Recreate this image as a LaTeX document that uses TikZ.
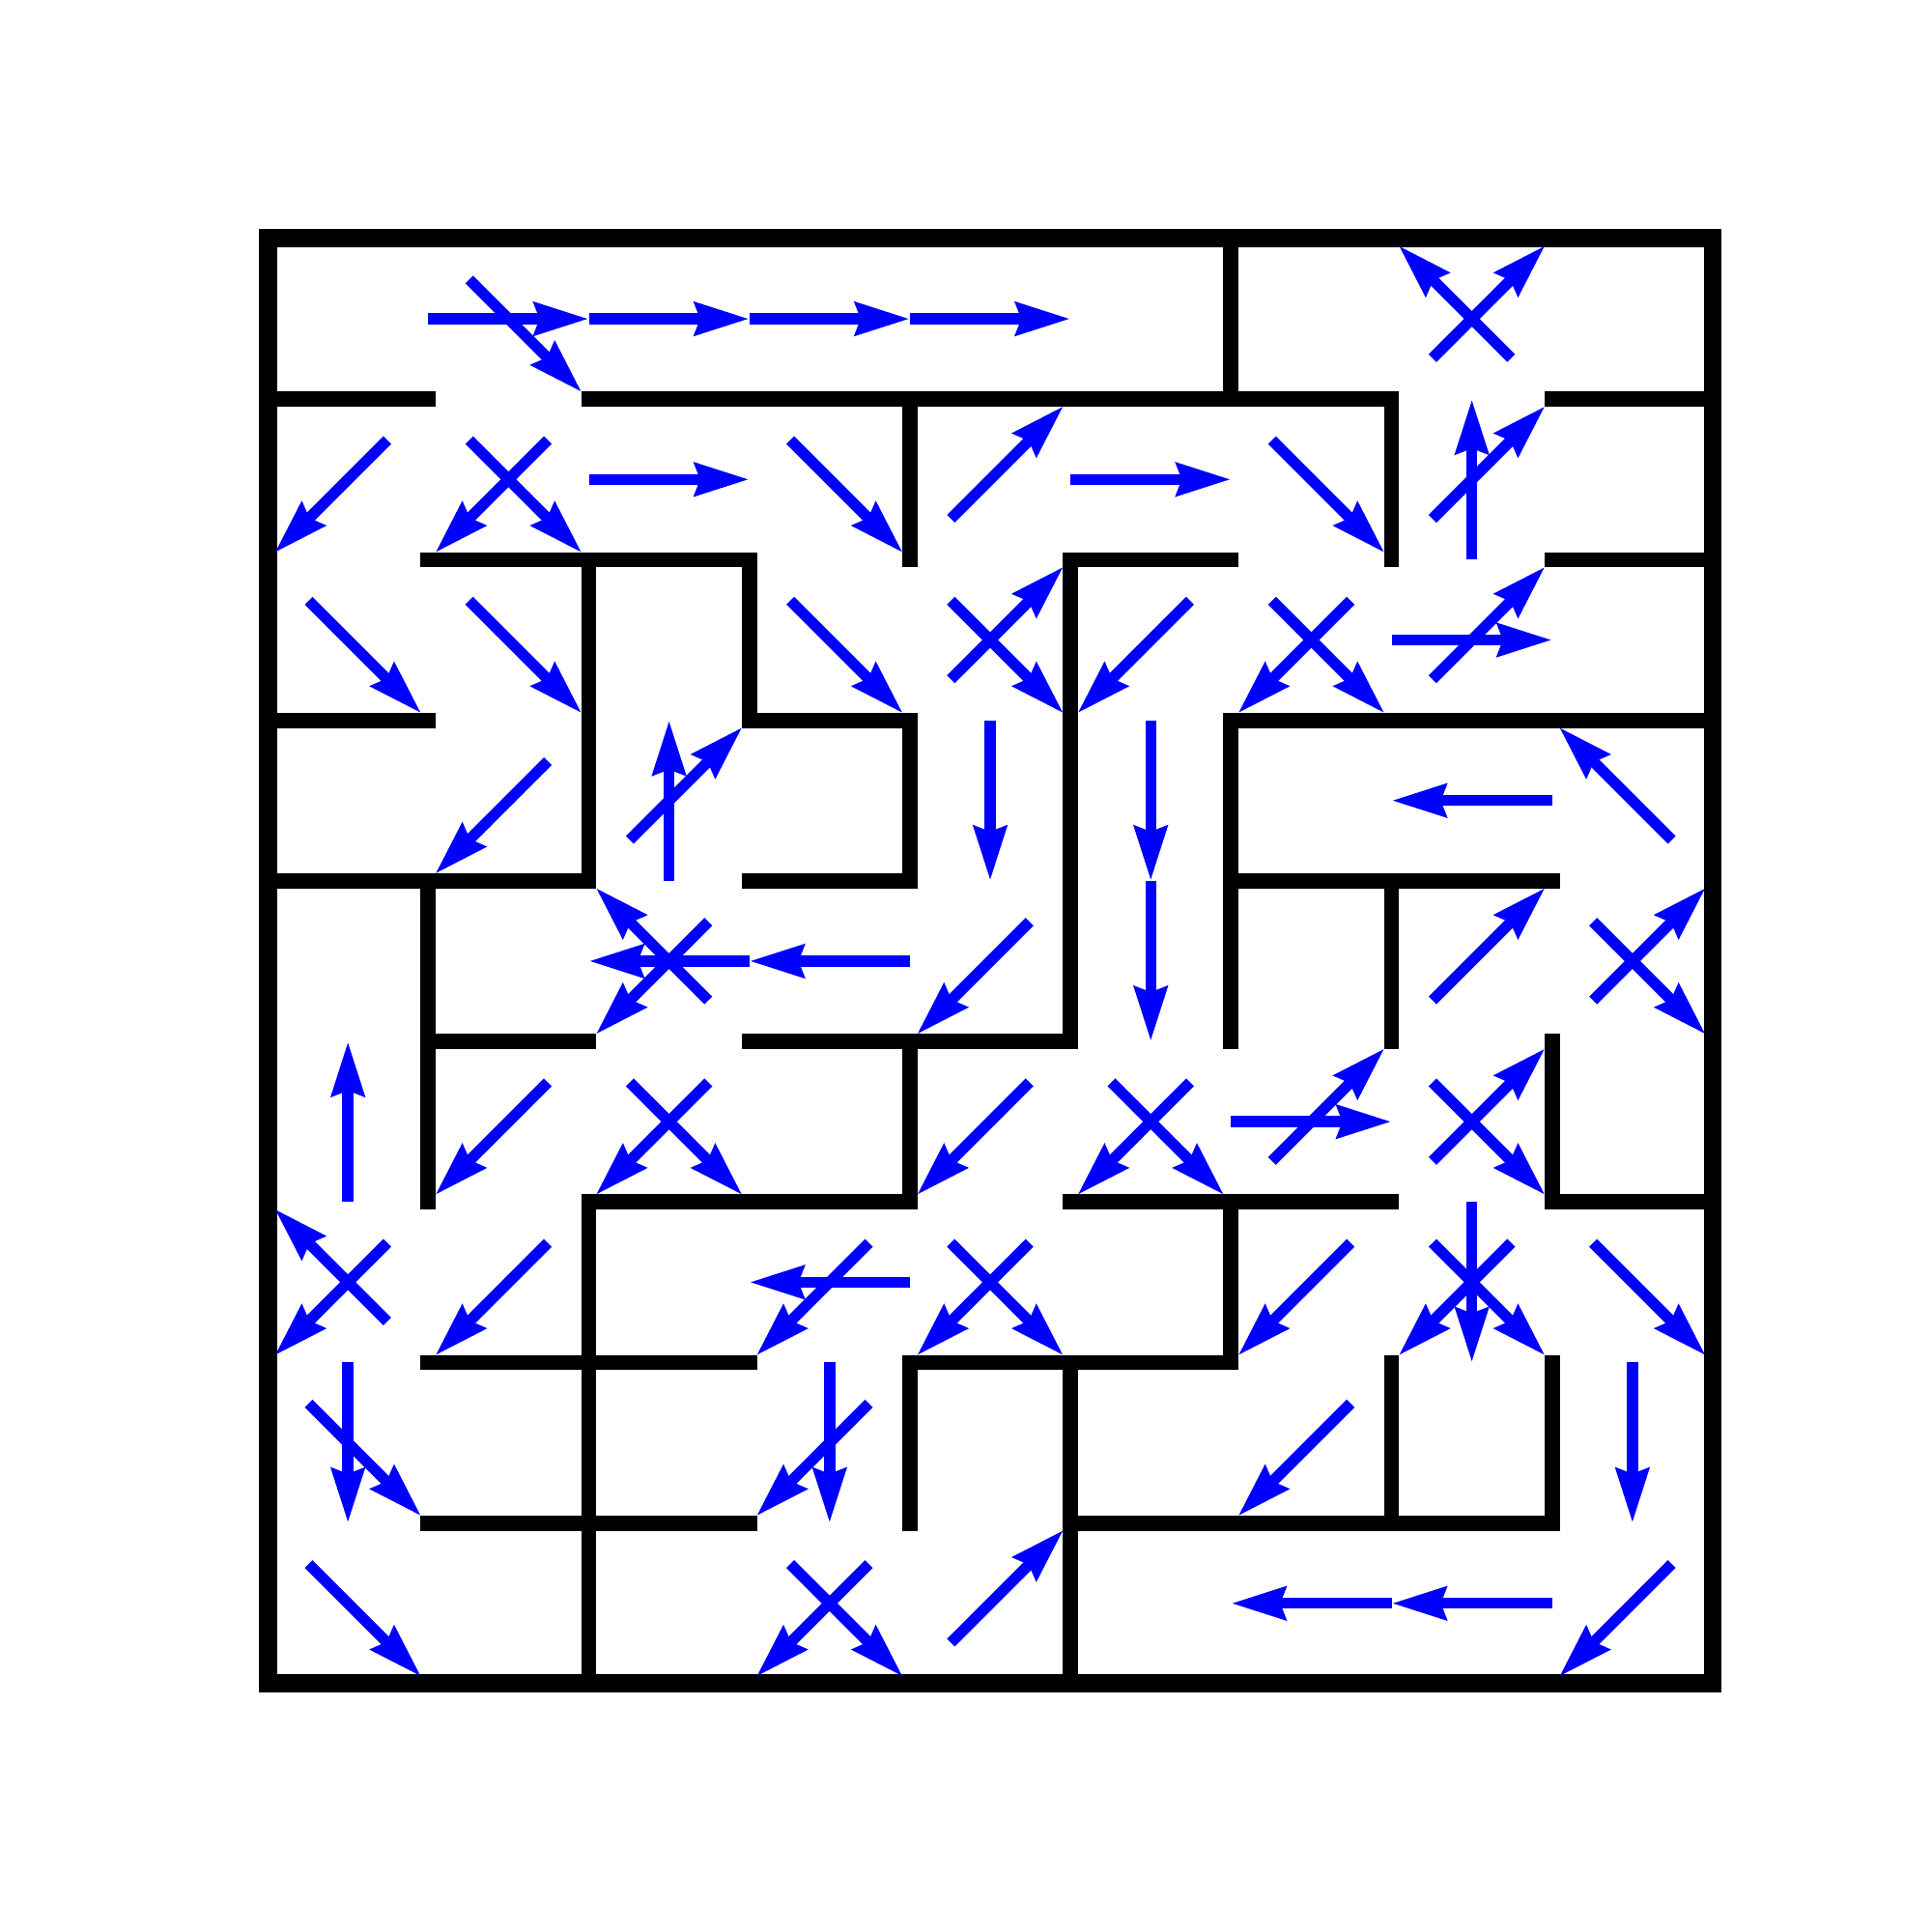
\documentclass[tikz,border=0pt]{standalone}
\usetikzlibrary{arrows.meta}
\begin{document}
\begin{tikzpicture}[x=1cm,y=1cm,
  wall/.style={line width=2.7pt,line cap=rect,black},
  outer/.style={line width=3.25pt,line join=miter,black},
  arr/.style={draw={rgb,255:red,0;green,0;blue,255},line width=1.95pt,
    -{Stealth[length=9.6pt,width=5.7pt,inset=0.9pt]}}]
\useasboundingbox[fill=white] (-1.667,1.486) rectangle (10.366,-10.547);
% walls
\foreach \a/\b/\c/\d in {0/1/1/1,2/1/7/1,8/1/9/1,
  1/2/3/2,5/2/6/2,8/2/9/2,
  0/3/1/3,3/3/4/3,6/3/9/3,
  0/4/2/4,3/4/4/4,6/4/8/4,
  1/5/2/5,3/5/5/5,
  2/6/4/6,5/6/7/6,8/6/9/6,
  1/7/3/7,4/7/6/7,
  1/8/3/8,5/8/8/8,
  6/0/6/1,6/3/6/5,6/6/6/7,
  4/1/4/2,4/3/4/4,4/5/4/6,4/7/4/8,
  7/1/7/2,7/4/7/5,7/7/7/8,
  2/2/2/4,2/6/2/9,
  3/2/3/3,
  5/2/5/5,5/7/5/9,
  1/4/1/6,
  8/5/8/6,8/7/8/8}
  \draw[wall] (\a,-\b) -- (\c,-\d);
\draw[outer] (0,0) rectangle (9,-9);
% orthogonal arrows
\foreach \i/\j/\dx/\dy in {1/0/1/0,2/0/1/0,3/0/1/0,4/0/1/0,
  2/1/1/0,5/1/1/0,7/1/0/1,
  7/2/1/0,
  2/3/0/1,4/3/0/-1,5/3/0/-1,7/3/-1/0,
  2/4/-1/0,3/4/-1/0,5/4/0/-1,
  0/5/0/1,6/5/1/0,
  3/6/-1/0,7/6/0/-1,
  0/7/0/-1,3/7/0/-1,8/7/0/-1,
  6/8/-1/0,7/8/-1/0}
  \draw[arr] ({\i+0.5-0.5*\dx},{-\j-0.5-0.5*\dy}) -- ({\i+0.5+0.5*\dx},{-\j-0.5+0.5*\dy});
% diagonal arrows
\foreach \i/\j/\dx/\dy in {1/0/1/-1,7/0/-1/1,7/0/1/1,
  0/1/-1/-1,1/1/-1/-1,1/1/1/-1,3/1/1/-1,4/1/1/1,6/1/1/-1,7/1/1/1,
  0/2/1/-1,1/2/1/-1,3/2/1/-1,4/2/1/1,4/2/1/-1,5/2/-1/-1,6/2/-1/-1,6/2/1/-1,7/2/1/1,
  1/3/-1/-1,2/3/1/1,8/3/-1/1,
  2/4/-1/1,2/4/-1/-1,4/4/-1/-1,7/4/1/1,8/4/1/1,8/4/1/-1,
  1/5/-1/-1,2/5/-1/-1,2/5/1/-1,4/5/-1/-1,5/5/-1/-1,5/5/1/-1,6/5/1/1,7/5/1/1,7/5/1/-1,
  0/6/-1/1,0/6/-1/-1,1/6/-1/-1,3/6/-1/-1,4/6/-1/-1,4/6/1/-1,6/6/-1/-1,7/6/-1/-1,7/6/1/-1,8/6/1/-1,
  0/7/1/-1,3/7/-1/-1,6/7/-1/-1,
  0/8/1/-1,3/8/-1/-1,3/8/1/-1,4/8/1/1,8/8/-1/-1}
  \draw[arr] ({\i+0.5-0.245*\dx},{-\j-0.5-0.245*\dy}) -- ({\i+0.5+0.457*\dx},{-\j-0.5+0.457*\dy});
\end{tikzpicture}
\end{document}
